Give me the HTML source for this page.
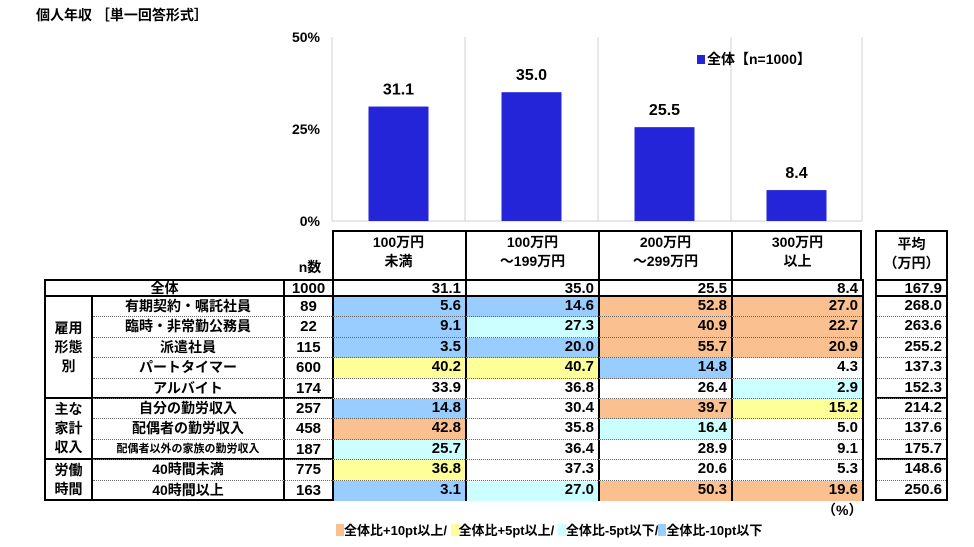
<!DOCTYPE html>
<html><head><meta charset="utf-8">
<style>
body{margin:0;width:974px;height:547px;background:#fff;position:relative;overflow:hidden;font-family:"Liberation Sans","Noto Sans CJK JP",sans-serif;font-weight:bold;color:#000}
.a{position:absolute;box-sizing:border-box}
.t{position:absolute;white-space:nowrap;font-size:13px}
</style></head><body>
<div class="t" style="left:36px;top:5px;font-size:14px">個人年収 ［単一回答形式］</div>
<svg id="chart" class="a" style="left:0;top:0" width="974" height="240"></svg>
<div id="tbl"></div>
<div class="t" style="left:822px;top:500px;font-size:14px">（%）</div>
<div class="t" style="left:336px;top:520px;font-size:13px">
<span style="display:inline-block;width:8px;height:12px;background:#FAC090;vertical-align:-1px"></span>全体比+10pt以上/ <span style="display:inline-block;width:8px;height:12px;background:#FFFF99;vertical-align:-1px"></span>全体比+5pt以上/ <span style="display:inline-block;width:8px;height:12px;background:#CCFFFF;vertical-align:-1px"></span>全体比-5pt以下/<span style="display:inline-block;width:8px;height:12px;background:#99CCFF;vertical-align:-1px"></span>全体比-10pt以下</div>
<script>
const categories=["100万円未満","100万円～199万円","200万円～299万円","300万円以上"];
const totalValues=[31.1,35.0,25.5,8.4];
const yTicks=[0,25,50];
const rowLabels=["有期契約・嘱託社員","臨時・非常勤公務員","派遣社員","パートタイマー","アルバイト","自分の勤労収入","配偶者の勤労収入","配偶者以外の家族の勤労収入","40時間未満","40時間以上"];
const rowN=[89,22,115,600,174,257,458,187,775,163];
const rowValues=[[5.6,14.6,52.8,27.0],[9.1,27.3,40.9,22.7],[3.5,20.0,55.7,20.9],[40.2,40.7,14.8,4.3],[33.9,36.8,26.4,2.9],[14.8,30.4,39.7,15.2],[42.8,35.8,16.4,5.0],[25.7,36.4,28.9,9.1],[36.8,37.3,20.6,5.3],[3.1,27.0,50.3,19.6]];
const rowAvg=[268.0,263.6,255.2,137.3,152.3,214.2,137.6,175.7,148.6,250.6];
const totalN=1000, totalAvg=167.9;
const groups=[["雇用","形態","別"],["主な","家計","収入"],["労働","時間"]];
const groupSizes=[5,3,2];

const colX=[332,465,598,731,862];
const y0=221,y50=37;
const yS=v=>y0-(v/50)*(y0-y50);
const svg=document.getElementById('chart');
const NS="http://www.w3.org/2000/svg";
function mk(tag,attrs,txt){const e=document.createElementNS(NS,tag);for(const k in attrs)e.setAttribute(k,attrs[k]);if(txt!==undefined)e.textContent=txt;svg.appendChild(e);return e;}
for(let i=0;i<colX.length;i++){const l=mk('line',{x1:colX[i],x2:colX[i],y1:y50,y2:y0,stroke:'#d0d0d0','stroke-width':1});}
const ax=mk('line',{x1:332,x2:862,y1:y0,y2:y0,stroke:'#d0d0d0'});

yTicks.forEach(v=>{const t=mk('text',{x:320,y:yS(v)+5,'text-anchor':'end','font-size':14,'font-weight':'bold','font-family':'Liberation Sans'},v+'%');});
totalValues.forEach((v,i)=>{const cx=(colX[i]+colX[i+1])/2;
const r=mk('rect',{x:cx-30,y:yS(v),width:60,height:y0-yS(v),fill:'#2424D8'});
const t=mk('text',{x:cx,y:yS(v)-12,'text-anchor':'middle','font-size':16,'font-weight':'bold','font-family':'Liberation Sans'},v.toFixed(1));});
const lg=mk('rect',{x:697,y:55,width:8,height:9,fill:'#2424D8'});
const lt=mk('text',{x:707,y:64,'font-size':14,'font-weight':'bold','font-family':'Liberation Sans,Noto Sans CJK JP'},'全体【n=1000】');

const tbl=document.getElementById('tbl');
function box(x,y,w,h,st,txt,name){const d=document.createElement('div');d.className='a';d.style.cssText=`left:${x}px;top:${y}px;width:${w}px;height:${h}px;`+st;if(txt!==undefined)d.innerHTML=txt;tbl.appendChild(d);return d;}
function color(v,base){const d=v-base;if(d>=10)return'#FAC090';if(d>=5)return'#FFFF99';if(d<=-10)return'#99CCFF';if(d<=-5)return'#CCFFFF';return'#fff';}
const cellTxt='font-size:15px;text-align:right;padding-right:4px;line-height:18px;';
const hdr=["100万円<br>未満","100万円<br>～199万円","200万円<br>～299万円","300万円<br>以上"];
box(332,230,530,49,'border:2px solid #000;border-bottom:none;','','header-box');
hdr.forEach((h,i)=>{box(colX[i],230,colX[i+1]-colX[i],49,'border-left:'+(i?'2px solid #000':'none')+';text-align:center;font-size:14px;line-height:19px;padding-top:3px;',h,'column-header');});
box(288,257,44,20,'font-size:14px;text-align:center;','n数','n-header');
box(875,230,73,49,'border:2px solid #000;border-bottom:none;text-align:center;font-size:14px;line-height:19px;padding-top:3px;','平均<br>（万円）','avg-header');
const tY=279,rH=20.4;
box(44,tY,241,18,'border:2px solid #000;text-align:center;font-size:14px;line-height:15px;','全体','row-label-total');
box(285,tY,47,18,'border-top:2px solid #000;border-bottom:2px solid #000;text-align:center;font-size:15px;line-height:15px;',totalN,'n-total');
totalValues.forEach((v,i)=>box(colX[i],tY,colX[i+1]-colX[i],18,'border:2px solid #000;border-right:none;'+cellTxt+'line-height:15px;',v.toFixed(1),'cell-total'));
box(862,tY,1,18,'border-left:2px solid #000;','','edge');
box(875,tY,73,18,'border:2px solid #000;'+cellTxt+'line-height:15px;',totalAvg.toFixed(1),'avg-total');
const sY=297;
let ri=0;
groupSizes.forEach((gs,g)=>{const gy=sY+ri*rH,gh=gs*rH;
box(44,gy,49,gh,'border:2px solid #000;border-top:none;text-align:center;font-size:14px;line-height:19px;display:flex;align-items:center;justify-content:center;',groups[g].join('<br>'),'group-label');
box(93,gy,769,gh,'border-bottom:2px solid #000;','','group-border');
box(875,gy,73,gh,'border:2px solid #000;border-top:none;','','avg-group-border');
ri+=gs;});
rowLabels.forEach((lab,r)=>{const y=sY+r*rH;const dotted=(r<rowLabels.length-1)?'border-bottom:1px dotted #666;':'';
box(93,y,192,rH,'border-right:2px solid #000;text-align:center;'+(lab.length>10?'font-size:11px;':'font-size:14px;')+'line-height:19px;'+dotted,lab,'row-label');
box(285,y,47,rH,'text-align:center;font-size:15px;line-height:19px;'+dotted,rowN[r],'n-cell');
rowValues[r].forEach((v,i)=>box(colX[i],y,colX[i+1]-colX[i],rH,'background:'+color(v,totalValues[i])+';border-left:2px solid #000;'+cellTxt+dotted,v.toFixed(1),'value-cell'));
box(862,y,2,rH,'background:#000;','','edge');
box(877,y,69,rH,cellTxt+dotted,rowAvg[r].toFixed(1),'avg-cell');
});
</script>
</body></html>
